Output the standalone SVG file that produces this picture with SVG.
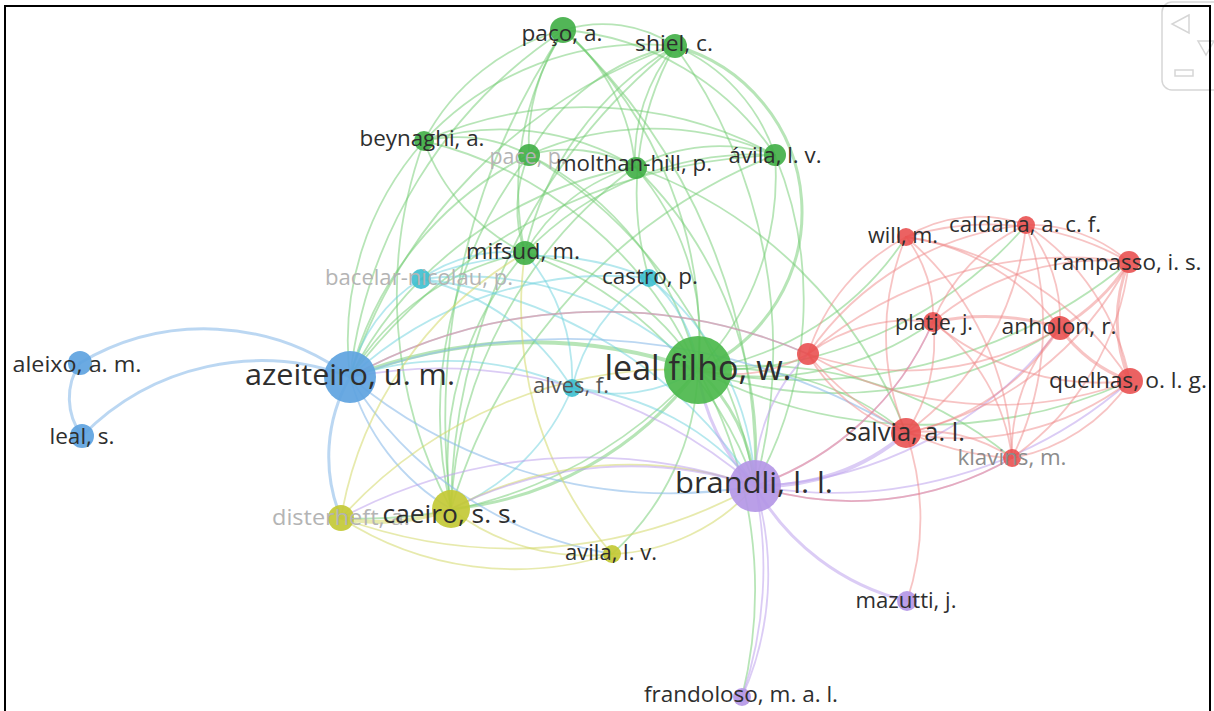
<svg xmlns="http://www.w3.org/2000/svg" width="1214" height="711" viewBox="0 0 1214 711">
<style>
.e path{fill:none;stroke-width:1.8;stroke-linecap:round}
.g{stroke:#6fcb6f;stroke-opacity:.5}
.c{stroke:#6cd2de;stroke-opacity:.5}
.b{stroke:#8dbde9;stroke-opacity:.6}
.y{stroke:#d4d86a;stroke-opacity:.55}
.p{stroke:#bea2ec;stroke-opacity:.55}
.r{stroke:#f08a8a;stroke-opacity:.5}
.w3{stroke-width:3!important}
.w4{stroke-width:4!important}
text{font-family:"Open Sans","Liberation Sans",sans-serif;text-anchor:middle;fill:#2e2e2e}
.f{fill:#b4b4b4}
.m{fill:#8c8c8c}
.ng{fill:#3fae45;fill-opacity:.9}
.nb{fill:#5ea3df;fill-opacity:.92}
.np{fill:#b497e6;fill-opacity:.92}
.ny{fill:#c3c935;fill-opacity:.92}
.nr{fill:#e84c4c;fill-opacity:.88}
.nc{fill:#3cbfcf;fill-opacity:.9}
.ui{fill:none;stroke:#d6d6d6;stroke-width:1.5}
</style>
<rect x="0" y="0" width="1214" height="711" fill="#ffffff"/>
<g id="connectors" class="e">
<path class="g" d="M564 30 A130 130 0 0 1 675 46"/>
<path class="g" d="M564 30 A420 420 0 0 1 698 370"/>
<path class="g" d="M564 30 A300 300 0 0 0 525 253"/>
<path class="g" d="M564 30 A200 200 0 0 1 635 167"/>
<path class="g" d="M564 30 A280 280 0 0 1 775 155"/>
<path class="g" d="M564 30 A220 220 0 0 0 424 141"/>
<path class="g" d="M564 30 A480 480 0 0 0 350 377"/>
<path class="g" d="M564 30 A700 700 0 0 0 451 509"/>
<path class="g" d="M564 30 A200 200 0 0 0 529 155"/>
<path class="g" d="M564 30 A600 600 0 0 1 755 486"/>
<path class="g w3" d="M675 46 A172 172 0 0 1 698 370"/>
<path class="g" d="M675 46 A180 180 0 0 0 635 167"/>
<path class="g" d="M675 46 A180 180 0 0 1 775 155"/>
<path class="g" d="M675 46 A320 320 0 0 0 525 253"/>
<path class="g" d="M675 46 A300 300 0 0 0 424 141"/>
<path class="g" d="M675 46 A220 220 0 0 0 529 155"/>
<path class="g" d="M675 46 A520 520 0 0 0 350 377"/>
<path class="g" d="M675 46 A520 520 0 0 1 755 486"/>
<path class="g" d="M675 46 A300 300 0 0 0 649 278"/>
<path class="g" d="M675 46 A600 600 0 0 0 451 509"/>
<path class="g" d="M424 141 A150 150 0 0 1 529 155"/>
<path class="g" d="M424 141 A260 260 0 0 1 635 167"/>
<path class="g" d="M424 141 A200 200 0 0 0 525 253"/>
<path class="g" d="M424 141 A400 400 0 0 1 698 370"/>
<path class="g" d="M424 141 A300 300 0 0 0 350 377"/>
<path class="g" d="M424 141 A400 400 0 0 1 775 155"/>
<path class="g" d="M424 141 A450 450 0 0 0 451 509"/>
<path class="g" d="M529 155 A140 140 0 0 1 635 167"/>
<path class="g" d="M529 155 A130 130 0 0 0 525 253"/>
<path class="g" d="M529 155 A320 320 0 0 1 698 370"/>
<path class="g" d="M529 155 A340 340 0 0 0 350 377"/>
<path class="g" d="M529 155 A300 300 0 0 1 775 155"/>
<path class="g" d="M529 155 A420 420 0 0 0 451 509"/>
<path class="g" d="M529 155 A480 480 0 0 1 755 486"/>
<path class="g" d="M635 167 A260 260 0 0 1 698 370"/>
<path class="g" d="M635 167 A180 180 0 0 0 525 253"/>
<path class="g" d="M635 167 A180 180 0 0 1 775 155"/>
<path class="g" d="M635 167 A400 400 0 0 0 350 377"/>
<path class="g" d="M635 167 A450 450 0 0 0 451 509"/>
<path class="g" d="M635 167 A400 400 0 0 1 755 486"/>
<path class="g" d="M635 167 A450 450 0 0 1 906 433"/>
<path class="g" d="M775 155 A280 280 0 0 1 698 370"/>
<path class="g" d="M775 155 A320 320 0 0 0 525 253"/>
<path class="g" d="M775 155 A560 560 0 0 0 350 377"/>
<path class="g" d="M775 155 A550 550 0 0 0 451 509"/>
<path class="g" d="M775 155 A380 380 0 0 1 755 486"/>
<path class="g" d="M525 253 A250 250 0 0 1 698 370"/>
<path class="g" d="M525 253 A260 260 0 0 0 350 377"/>
<path class="g" d="M525 253 A320 320 0 0 0 451 509"/>
<path class="g" d="M525 253 A380 380 0 0 1 755 486"/>
<path class="g w4" d="M698 370 A500 500 0 0 0 350 377"/>
<path class="g w3" d="M698 370 A350 350 0 0 1 451 509"/>
<path class="g w3" d="M698 370 A180 180 0 0 1 755 486"/>
<path class="g" d="M698 370 A280 280 0 0 1 906 433"/>
<path class="g" d="M698 370 A450 450 0 0 1 341 518"/>
<path class="g" d="M698 370 A260 260 0 0 1 612 554"/>
<path class="g" d="M698 370 A300 300 0 0 0 933 322"/>
<path class="g" d="M698 370 A420 420 0 0 0 1060 328"/>
<path class="g" d="M698 370 A500 500 0 0 0 1130 381"/>
<path class="g" d="M698 370 A520 520 0 0 0 1129 262"/>
<path class="g" d="M698 370 A420 420 0 0 0 1026 225"/>
<path class="g" d="M698 370 A300 300 0 0 0 906 237"/>
<path class="g" d="M698 370 A400 400 0 0 1 1012 458"/>
<path class="g" d="M698 370 A450 450 0 0 1 742 697"/>
<path class="c" d="M421 279 A160 160 0 0 0 350 377"/>
<path class="c" d="M421 279 A340 340 0 0 1 698 370"/>
<path class="c" d="M421 279 A300 300 0 0 1 649 278"/>
<path class="c" d="M421 279 A240 240 0 0 1 572 388"/>
<path class="c" d="M421 279 A150 150 0 0 1 525 253"/>
<path class="c" d="M421 279 A460 460 0 0 1 755 486"/>
<path class="c" d="M649 278 A140 140 0 0 1 698 370"/>
<path class="c" d="M649 278 A380 380 0 0 0 350 377"/>
<path class="c" d="M649 278 A180 180 0 0 0 572 388"/>
<path class="c" d="M649 278 A280 280 0 0 1 755 486"/>
<path class="c" d="M572 388 A300 300 0 0 0 350 377"/>
<path class="c" d="M572 388 A160 160 0 0 0 698 370"/>
<path class="c" d="M572 388 A220 220 0 0 1 451 509"/>
<path class="c" d="M572 388 A260 260 0 0 1 755 486"/>
<path class="c" d="M572 388 A190 190 0 0 0 525 253"/>
<path class="b w3" d="M80 363 A63 63 0 0 0 82 436"/>
<path class="b w3" d="M80 363 A244 244 0 0 1 350 377"/>
<path class="b w3" d="M82 436 A251 251 0 0 1 350 377"/>
<path class="b" d="M350 377 A220 220 0 0 0 451 509"/>
<path class="b w3" d="M350 377 A160 160 0 0 0 341 518"/>
<path class="b" d="M350 377 A500 500 0 0 0 755 486"/>
<path class="b" d="M350 377 A380 380 0 0 0 612 554"/>
<path class="b" d="M350 377 A650 650 0 0 1 906 433"/>
<path class="b" d="M350 377 A520 520 0 0 1 808 354"/>
<path class="y w4" d="M451 509 A200 200 0 0 1 341 518"/>
<path class="y" d="M451 509 A220 220 0 0 0 612 554"/>
<path class="y" d="M451 509 A380 380 0 0 1 755 486"/>
<path class="y" d="M341 518 A320 320 0 0 0 612 554"/>
<path class="y" d="M341 518 A380 380 0 0 1 525 253"/>
<path class="y" d="M341 518 A500 500 0 0 0 755 486"/>
<path class="y" d="M612 554 A200 200 0 0 0 755 486"/>
<path class="y" d="M612 554 A380 380 0 0 1 525 253"/>
<path class="y" d="M341 518 A450 450 0 0 1 698 370"/>
<path class="p w3" d="M755 486 A240 240 0 0 0 907 601"/>
<path class="p" d="M755 486 A400 400 0 0 1 742 697"/>
<path class="p" d="M755 486 A300 300 0 0 1 742 697"/>
<path class="p w4" d="M755 486 A220 220 0 0 0 906 433"/>
<path class="p" d="M755 486 A320 320 0 0 0 1012 458"/>
<path class="p" d="M755 486 A450 450 0 0 0 1130 381"/>
<path class="p" d="M755 486 A400 400 0 0 0 1060 328"/>
<path class="p" d="M755 486 A300 300 0 0 0 933 322"/>
<path class="p" d="M755 486 A480 480 0 0 0 350 377"/>
<path class="p" d="M755 486 A400 400 0 0 0 451 509"/>
<path class="p" d="M755 486 A180 180 0 0 1 808 354"/>
<path class="p" d="M755 486 A520 520 0 0 0 341 518"/>
<path class="p w3" d="M755 486 A200 200 0 0 1 698 370"/>
<path class="r" d="M906 433 A160 160 0 0 0 933 322"/>
<path class="r" d="M906 433 A240 240 0 0 0 1060 328"/>
<path class="r" d="M906 433 A280 280 0 0 0 1130 381"/>
<path class="r" d="M906 433 A330 330 0 0 0 1129 262"/>
<path class="r" d="M906 433 A250 250 0 0 1 906 237"/>
<path class="r" d="M906 433 A290 290 0 0 0 1026 225"/>
<path class="r" d="M906 433 A150 150 0 0 1 1012 458"/>
<path class="r" d="M906 433 A170 170 0 0 1 808 354"/>
<path class="r" d="M906 433 A260 260 0 0 1 907 601"/>
<path class="r" d="M906 237 A140 140 0 0 1 1026 225"/>
<path class="r" d="M906 237 A130 130 0 0 1 933 322"/>
<path class="r" d="M906 237 A230 230 0 0 1 1060 328"/>
<path class="r" d="M906 237 A280 280 0 0 1 1129 262"/>
<path class="r" d="M906 237 A320 320 0 0 1 1130 381"/>
<path class="r" d="M906 237 A200 200 0 0 0 808 354"/>
<path class="r" d="M906 237 A300 300 0 0 1 1012 458"/>
<path class="r" d="M1026 225 A150 150 0 0 1 1129 262"/>
<path class="r" d="M1026 225 A150 150 0 0 1 1060 328"/>
<path class="r" d="M1026 225 A240 240 0 0 1 1130 381"/>
<path class="r" d="M1026 225 A180 180 0 0 0 933 322"/>
<path class="r" d="M1026 225 A300 300 0 0 1 1012 458"/>
<path class="r" d="M1026 225 A300 300 0 0 0 808 354"/>
<path class="r w3" d="M1129 262 A200 200 0 0 1 1060 328"/>
<path class="r w3" d="M1129 262 A150 150 0 0 0 1130 381"/>
<path class="r" d="M1129 262 A260 260 0 0 0 933 322"/>
<path class="r" d="M1129 262 A280 280 0 0 1 1012 458"/>
<path class="r" d="M1129 262 A400 400 0 0 0 808 354"/>
<path class="r w3" d="M1060 328 A150 150 0 0 0 1130 381"/>
<path class="r w3" d="M1060 328 A250 250 0 0 0 933 322"/>
<path class="r" d="M1060 328 A180 180 0 0 0 1012 458"/>
<path class="r" d="M1060 328 A300 300 0 0 1 808 354"/>
<path class="r" d="M1130 381 A260 260 0 0 1 933 322"/>
<path class="r" d="M1130 381 A180 180 0 0 1 1012 458"/>
<path class="r" d="M1130 381 A380 380 0 0 1 808 354"/>
<path class="r" d="M933 322 A170 170 0 0 0 808 354"/>
<path class="r" d="M933 322 A200 200 0 0 1 1012 458"/>
<path class="r" d="M808 354 A280 280 0 0 0 1012 458"/>
<path class="r" d="M808 354 A150 150 0 0 1 698 370"/>
<path class="r" d="M1012 458 A320 320 0 0 1 755 486"/>
<path class="r" d="M933 322 A300 300 0 0 1 755 486"/>
<path class="r" d="M808 354 A520 520 0 0 0 350 377"/>
</g>
<g id="n-pace"><circle class="ng" cx="529" cy="155" r="11"/><text class="f" x="528" y="164" font-size="22" textLength="77" lengthAdjust="spacingAndGlyphs">pace, p.</text></g>
<g id="n-bacelar"><circle class="nc" cx="421" cy="279" r="10"/><text class="f" x="419" y="285" font-size="22" textLength="188" lengthAdjust="spacingAndGlyphs">bacelar-nicolau, p.</text></g>
<g id="n-disterheft"><circle class="ny" cx="341" cy="518" r="13"/><text class="f" x="341" y="525" font-size="22" textLength="138" lengthAdjust="spacingAndGlyphs">disterheft, a.</text></g>
<g id="n-klavins"><circle class="nr" cx="1012" cy="458" r="9"/><text class="m" x="1012" y="465" font-size="22" textLength="109" lengthAdjust="spacingAndGlyphs">klavins, m.</text></g>
<g id="n-red"><circle class="nr" cx="808" cy="354" r="11"/></g>
<g id="n-paco"><circle class="ng" cx="563" cy="30" r="13"/><text x="562" y="41" font-size="22" textLength="81" lengthAdjust="spacingAndGlyphs">paço, a.</text></g>
<g id="n-shiel"><circle class="ng" cx="675" cy="46" r="12"/><text x="674" y="51" font-size="22" textLength="78" lengthAdjust="spacingAndGlyphs">shiel, c.</text></g>
<g id="n-beynaghi"><circle class="ng" cx="424" cy="141" r="10"/><text x="422" y="146" font-size="22" textLength="125" lengthAdjust="spacingAndGlyphs">beynaghi, a.</text></g>
<g id="n-molthan"><circle class="ng" cx="636" cy="168" r="11"/><text x="634" y="171" font-size="22" textLength="156" lengthAdjust="spacingAndGlyphs">molthan-hill, p.</text></g>
<g id="n-avila-lv"><circle class="ng" cx="775" cy="155" r="11"/><text x="775" y="163" font-size="22" textLength="93" lengthAdjust="spacingAndGlyphs">ávila, l. v.</text></g>
<g id="n-mifsud"><circle class="ng" cx="525" cy="253" r="12"/><text x="523" y="259" font-size="22" textLength="114" lengthAdjust="spacingAndGlyphs">mifsud, m.</text></g>
<g id="n-castro"><circle class="nc" cx="649" cy="278" r="9"/><text x="650" y="284" font-size="22" textLength="96" lengthAdjust="spacingAndGlyphs">castro, p.</text></g>
<g id="n-alves"><circle class="nc" cx="572" cy="388" r="9"/><text x="571" y="393" font-size="22" style="fill:#555" textLength="76" lengthAdjust="spacingAndGlyphs">alves, f.</text></g>
<g id="n-will"><circle class="nr" cx="906" cy="237" r="9"/><text x="903" y="243" font-size="22" textLength="70" lengthAdjust="spacingAndGlyphs">will, m.</text></g>
<g id="n-caldana"><circle class="nr" cx="1026" cy="225" r="9"/><text x="1025" y="232" font-size="22" textLength="152" lengthAdjust="spacingAndGlyphs">caldana, a. c. f.</text></g>
<g id="n-rampasso"><circle class="nr" cx="1129" cy="262" r="11"/><text x="1127" y="270" font-size="22" textLength="149" lengthAdjust="spacingAndGlyphs">rampasso, i. s.</text></g>
<g id="n-platje"><circle class="nr" cx="933" cy="322" r="10"/><text x="934" y="330" font-size="22" textLength="78" lengthAdjust="spacingAndGlyphs">platje, j.</text></g>
<g id="n-anholon"><circle class="nr" cx="1060" cy="328" r="12"/><text x="1059" y="334" font-size="22" textLength="115" lengthAdjust="spacingAndGlyphs">anholon, r.</text></g>
<g id="n-quelhas"><circle class="nr" cx="1130" cy="381" r="13"/><text x="1128" y="388" font-size="22" textLength="158" lengthAdjust="spacingAndGlyphs">quelhas, o. l. g.</text></g>
<g id="n-aleixo"><circle class="nb" cx="80" cy="363" r="12"/><text x="77" y="372" font-size="22" textLength="129" lengthAdjust="spacingAndGlyphs">aleixo, a. m.</text></g>
<g id="n-leal-s"><circle class="nb" cx="82" cy="436" r="12"/><text x="82" y="444" font-size="22" textLength="65" lengthAdjust="spacingAndGlyphs">leal, s.</text></g>
<g id="n-avila-y"><circle class="ny" cx="612" cy="554" r="9"/><text x="611" y="560" font-size="22" textLength="92" lengthAdjust="spacingAndGlyphs">avila, l. v.</text></g>
<g id="n-mazutti"><circle class="np" cx="907" cy="601" r="10"/><text x="906" y="608" font-size="22" textLength="101" lengthAdjust="spacingAndGlyphs">mazutti, j.</text></g>
<g id="n-frandoloso"><circle class="np" cx="742" cy="697" r="9"/><text x="741" y="702" font-size="22" textLength="194" lengthAdjust="spacingAndGlyphs">frandoloso, m. a. l.</text></g>
<g id="n-salvia"><circle class="nr" cx="906" cy="433" r="15"/><text x="905" y="441" font-size="25" textLength="120" lengthAdjust="spacingAndGlyphs">salvia, a. l.</text></g>
<g id="n-caeiro"><circle class="ny" cx="451" cy="509" r="19"/><text x="450" y="523" font-size="26" textLength="135" lengthAdjust="spacingAndGlyphs">caeiro, s. s.</text></g>
<g id="n-azeiteiro"><circle class="nb" cx="350" cy="377" r="26"/><text x="350" y="385" font-size="30" textLength="210" lengthAdjust="spacingAndGlyphs">azeiteiro, u. m.</text></g>
<g id="n-brandli"><circle class="np" cx="755" cy="486" r="26"/><text x="754" y="493" font-size="30" textLength="158" lengthAdjust="spacingAndGlyphs">brandli, l. l.</text></g>
<g id="n-lealfilho"><circle cx="698" cy="370" r="34" fill="#4cb84c" fill-opacity=".92"/><text x="698" y="380" font-size="34" textLength="187" lengthAdjust="spacingAndGlyphs">leal filho, w.</text></g>
<g id="controls">
<rect class="ui" x="1162" y="2" width="70" height="88" rx="10"/>
<path class="ui" d="M1189 15 L1172 24 L1189 33 Z"/>
<path class="ui" d="M1198 41 L1214 41 L1206 55 Z"/>
<rect class="ui" x="1175" y="70" width="18" height="6"/>
</g>
<rect x="5" y="6" width="1205" height="710" fill="none" stroke="#000" stroke-width="2"/>
</svg>
